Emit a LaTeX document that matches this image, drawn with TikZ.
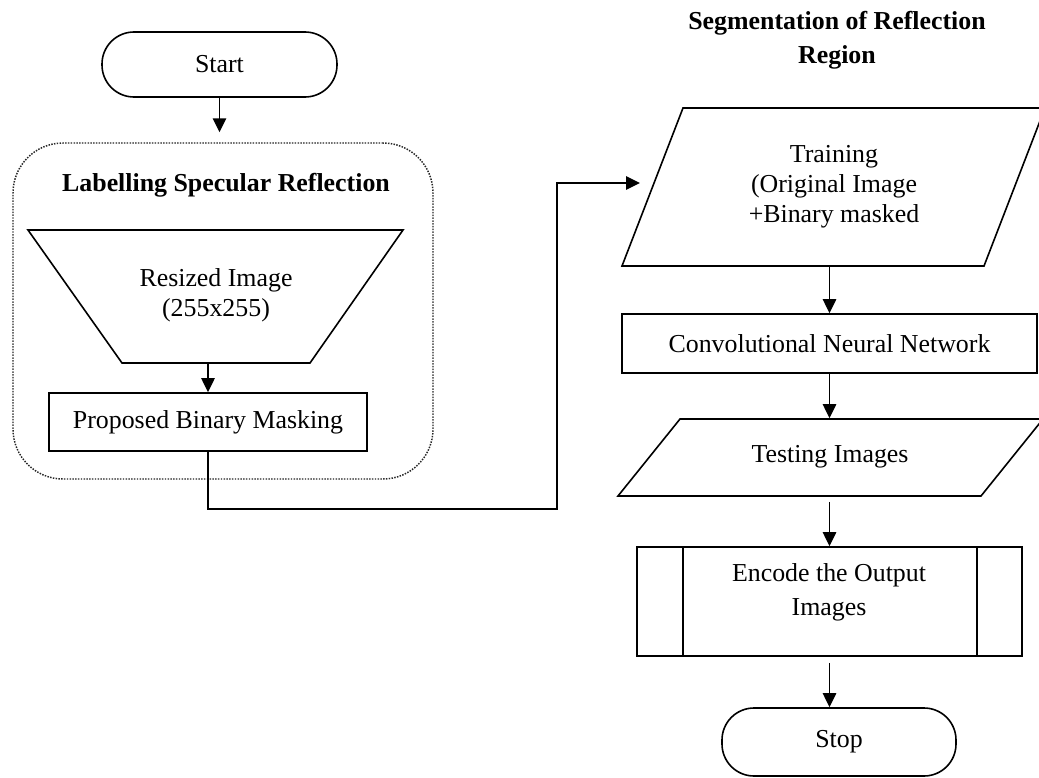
\documentclass[tikz,border=0pt]{standalone}
\usepackage{fontspec}
\setmainfont{Liberation Serif}
\usetikzlibrary{arrows.meta,calc}
\begin{document}
\begin{tikzpicture}[x=0.75pt,y=-0.75pt,
  line width=1.2pt,
  every node/.style={font=\fontsize{19.4}{22.5}\selectfont, align=center, inner sep=0pt},
  boldtxt/.style={font=\fontsize{19.4}{25.5}\selectfont\bfseries},
  arr/.style={-{Triangle[length=10.5pt,width=10pt]}},
  term/.style={draw, rectangle, rounded corners=24pt},
  procbox/.style={draw, rectangle},
  ghost/.style={rectangle, draw=none},
  grpbox/.style={draw=black!85, densely dotted, line width=1.1pt, rounded corners=37.5pt, rectangle}
]
\clip (0,0) rectangle (1039,778);
\fill[white] (0,0) rectangle (1039,778);

% left group
\node[grpbox, minimum width=315pt, minimum height=252pt] (grp) at (223,311) {};
\node[term, minimum width=176.25pt, minimum height=48.75pt] (start) at (219.5,64.5) {Start};
\node[boldtxt] (t1) at (226,185) {Labelling Specular Reflection};

\draw (28,230) -- (403,230) -- (310,363) -- (122,363) -- cycle;
\node[ghost, minimum width=281.25pt, minimum height=99.75pt] (resz) at (215.5,296.5) {};
\node[font=\fontsize{19.4}{22.5}\selectfont] (resztxt) at (216,295) {Resized Image\\(255x255)};

\node[procbox, minimum width=238.5pt, minimum height=43.5pt] (pbm) at (208,422) {Proposed Binary Masking};

% right column
\node[boldtxt] (t2) at (837,40) {Segmentation of Reflection\\Region};

\draw (683,108) -- (1045,108) -- (984,266) -- (622,266) -- cycle;
\node[ghost, minimum width=317.25pt, minimum height=118.5pt] (train) at (833.5,187) {};
\node (traintxt) at (834,187) {Training\\(Original Image\\+Binary masked};

\node[procbox, minimum width=311.25pt, minimum height=44.25pt] (cnn) at (829.5,343.5) {Convolutional Neural Network};

\draw (680,419) -- (1043,419) -- (981,496) -- (618,496) -- cycle;
\node[ghost, minimum width=318.75pt, minimum height=57.75pt] (test) at (830.5,457.5) {};
\node (testtxt) at (830,457) {Testing Images};

\node[procbox, minimum width=288.75pt, minimum height=81.75pt] (enc) at (829.5,601.5) {};
\draw ($(enc.north west)+(47,0)$) -- ($(enc.south west)+(47,0)$);
\draw ($(enc.north east)+(-46,0)$) -- ($(enc.south east)+(-46,0)$);
\node[font=\fontsize{19.4}{25.5}\selectfont] (enctxt) at (829,592) {Encode the Output\\Images};

\node[term, minimum width=175.5pt, minimum height=51pt] (stop) at (839,742) {Stop};

% connectors
\coordinate (c1) at (557,509);
\coordinate (trin) at (640,183);
\draw[arr, shorten >=7.5pt] (start.south) -- (start.south |- grp.north);
\draw[arr] (pbm.north |- resz.south) -- (pbm.north);
\draw[arr] (pbm.south) |- (c1) |- (trin);
\draw[arr] (cnn.north |- train.south) -- (cnn.north);
\draw[arr] (cnn.south) -- (cnn.south |- test.north);
\draw[arr, shorten <=3.75pt] (enc.north |- test.south) -- (enc.north);
\draw[arr, shorten <=4.5pt] (enc.south) -- (enc.south |- stop.north);
\end{tikzpicture}
\end{document}
